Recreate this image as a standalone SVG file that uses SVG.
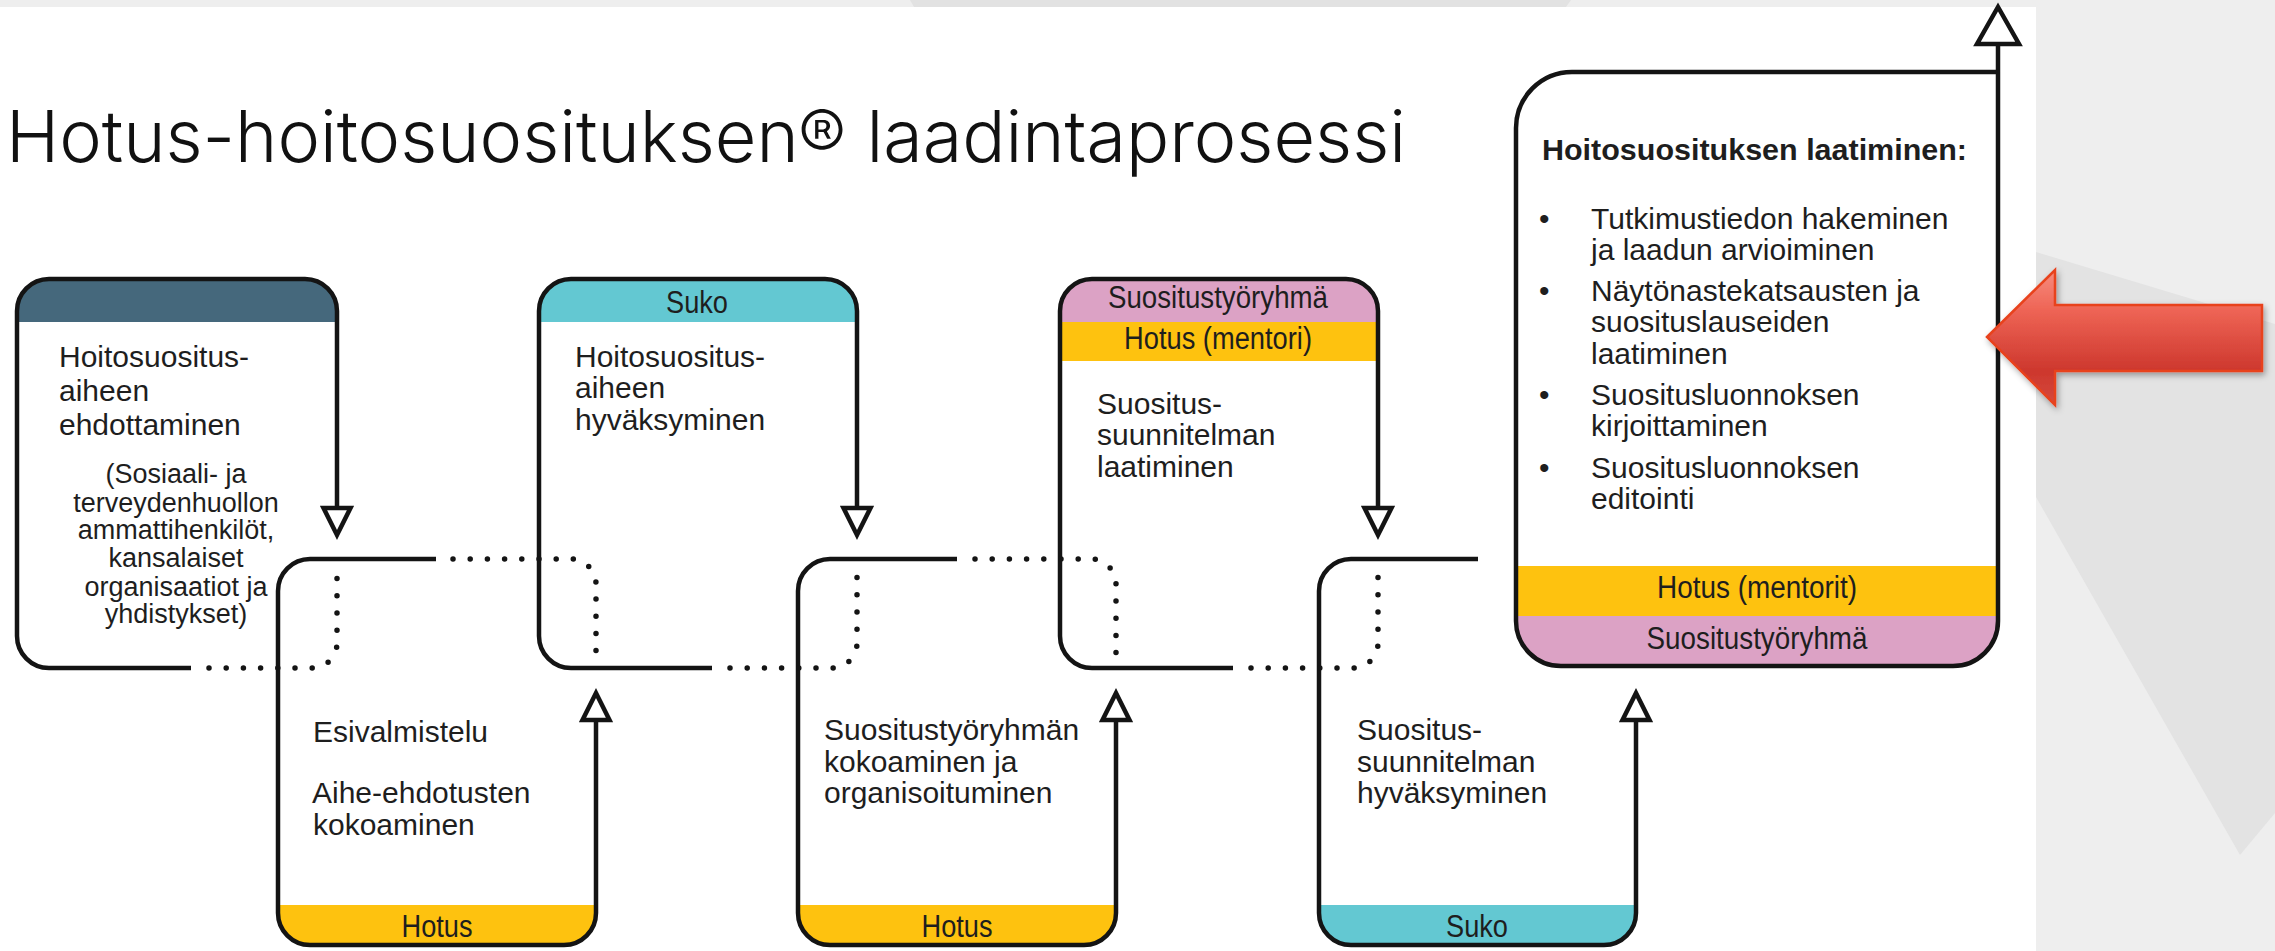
<svg xmlns="http://www.w3.org/2000/svg" width="2275" height="951" viewBox="0 0 2275 951">
  <defs>
    <style>
      .ln{fill:none;stroke:#141414;stroke-width:4.5;stroke-linejoin:round}
      .dot{fill:none;stroke:#141414;stroke-width:5.5;stroke-linecap:round;stroke-dasharray:0 17.2}
      .ah{fill:#fff;stroke:#141414;stroke-width:4.5;stroke-linejoin:miter}
      .t{font-family:"Liberation Sans",Arial,sans-serif;font-size:30px;fill:#1e1e1e}
      .s{font-size:27px;text-anchor:middle}
      .h{font-family:"Liberation Sans",Arial,sans-serif;font-size:31px;fill:#1e1e1e;text-anchor:middle}
      .b{font-weight:bold}
      .yel{fill:#fec20f}
      .cya{fill:#63c8d2}
      .pnk{fill:#dca2c5}
      .slt{fill:#45687c}
    </style>
    <linearGradient id="redg" x1="0" y1="0" x2="0" y2="1">
      <stop offset="0" stop-color="#f78c7e"/>
      <stop offset="0.3" stop-color="#ee6455"/>
      <stop offset="0.75" stop-color="#cd372d"/>
      <stop offset="1" stop-color="#d54a3e"/>
    </linearGradient>
    <filter id="shadow" x="-10%" y="-20%" width="130%" height="150%">
      <feDropShadow dx="2" dy="3" stdDeviation="3" flood-color="#000" flood-opacity="0.35"/>
    </filter>
  </defs>

  <!-- background -->
  <g id="background">
    <rect x="0" y="0" width="2275" height="951" fill="#ffffff"/>
    <rect x="0" y="0" width="2275" height="7" fill="#eeeeee"/>
    <polygon points="910,0 1571,0 1566,7 914,7" fill="#e2e2e2"/>
    <rect x="2036" y="0" width="239" height="951" fill="#eeeeee"/>
    <polygon points="2036,252 2275,324 2275,813 2240,855 2036,497" fill="#e3e3e3"/>
  </g>

  <!-- title -->
  <text id="title" x="6" y="162" font-family="Inter,'Open Sans','Noto Sans',sans-serif" font-weight="300" font-size="72" textLength="1400" lengthAdjust="spacingAndGlyphs" fill="#111">Hotus-hoitosuosituksen® laadintaprosessi</text>

  <!-- node 1 -->
  <g id="node-ehdottaminen">
    <path class="slt" d="M17 322 V311 A32 32 0 0 1 49 279 H305 A32 32 0 0 1 337 311 V322 Z"/>
    <path class="ln" d="M191 668 H49 A32 32 0 0 1 17 636 V311 A32 32 0 0 1 49 279 H305 A32 32 0 0 1 337 311"/>
    <text class="t" x="59" y="367">Hoitosuositus-</text>
    <text class="t" x="59" y="401">aiheen</text>
    <text class="t" x="59" y="435">ehdottaminen</text>
    <text class="t s" x="176" y="483">(Sosiaali- ja</text>
    <text class="t s" x="176" y="512">terveydenhuollon</text>
    <text class="t s" x="176" y="539">ammattihenkilöt,</text>
    <text class="t s" x="176" y="567">kansalaiset</text>
    <text class="t s" x="176" y="596">organisaatiot ja</text>
    <text class="t s" x="176" y="623">yhdistykset)</text>
  </g>

  <!-- node 2 -->
  <g id="node-esivalmistelu">
    <path class="yel" d="M278 905 V913 A32 32 0 0 0 310 945 H564 A32 32 0 0 0 596 913 V905 Z"/>
    <path class="ln" d="M436 559 H310 A32 32 0 0 0 278 591 V913 A32 32 0 0 0 310 945 H564 A32 32 0 0 0 596 913"/>
    <text class="t" x="313" y="742">Esivalmistelu</text>
    <text class="t" x="312" y="803">Aihe-ehdotusten</text>
    <text class="t" x="313" y="835">kokoaminen</text>
    <text class="h" x="437" y="937" textLength="71" lengthAdjust="spacingAndGlyphs">Hotus</text>
  </g>

  <!-- node 3 -->
  <g id="node-hyvaksyminen">
    <path class="cya" d="M539 322 V311 A32 32 0 0 1 571 279 H825 A32 32 0 0 1 857 311 V322 Z"/>
    <path class="ln" d="M712 668 H571 A32 32 0 0 1 539 636 V311 A32 32 0 0 1 571 279 H825 A32 32 0 0 1 857 311"/>
    <text class="h" x="697" y="313" textLength="62" lengthAdjust="spacingAndGlyphs">Suko</text>
    <text class="t" x="575" y="367">Hoitosuositus-</text>
    <text class="t" x="575" y="398">aiheen</text>
    <text class="t" x="575" y="430">hyväksyminen</text>
  </g>

  <!-- node 4 -->
  <g id="node-tyoryhma">
    <path class="yel" d="M798 905 V913 A32 32 0 0 0 830 945 H1084 A32 32 0 0 0 1116 913 V905 Z"/>
    <path class="ln" d="M957 559 H830 A32 32 0 0 0 798 591 V913 A32 32 0 0 0 830 945 H1084 A32 32 0 0 0 1116 913"/>
    <text class="t" x="824" y="740">Suositustyöryhmän</text>
    <text class="t" x="824" y="772">kokoaminen ja</text>
    <text class="t" x="824" y="803">organisoituminen</text>
    <text class="h" x="957" y="937" textLength="71" lengthAdjust="spacingAndGlyphs">Hotus</text>
  </g>

  <!-- node 5 -->
  <g id="node-suunnitelma">
    <path class="pnk" d="M1060 322 V311 A32 32 0 0 1 1092 279 H1346 A32 32 0 0 1 1378 311 V322 Z"/>
    <rect class="yel" x="1060" y="322" width="318" height="39"/>
    <path class="ln" d="M1233 668 H1092 A32 32 0 0 1 1060 636 V311 A32 32 0 0 1 1092 279 H1346 A32 32 0 0 1 1378 311"/>
    <text class="h" x="1218" y="308" textLength="220" lengthAdjust="spacingAndGlyphs">Suositustyöryhmä</text>
    <text class="h" x="1218" y="349" textLength="188" lengthAdjust="spacingAndGlyphs">Hotus (mentori)</text>
    <text class="t" x="1097" y="414">Suositus-</text>
    <text class="t" x="1097" y="445">suunnitelman</text>
    <text class="t" x="1097" y="477">laatiminen</text>
  </g>

  <!-- node 6 -->
  <g id="node-suunnitelma-hyvaksyminen">
    <path class="cya" d="M1319 905 V913 A32 32 0 0 0 1351 945 H1604 A32 32 0 0 0 1636 913 V905 Z"/>
    <path class="ln" d="M1478 559 H1351 A32 32 0 0 0 1319 591 V913 A32 32 0 0 0 1351 945 H1604 A32 32 0 0 0 1636 913"/>
    <text class="t" x="1357" y="740">Suositus-</text>
    <text class="t" x="1357" y="772">suunnitelman</text>
    <text class="t" x="1357" y="803">hyväksyminen</text>
    <text class="h" x="1477" y="937" textLength="62" lengthAdjust="spacingAndGlyphs">Suko</text>
  </g>

  <!-- node 7 -->
  <g id="node-laatiminen">
    <rect class="yel" x="1516" y="566" width="482" height="50"/>
    <path class="pnk" d="M1516 616 V621 A45 45 0 0 0 1561 666 H1953 A45 45 0 0 0 1998 621 V616 Z"/>
    <path class="ln" d="M1998 72 V621 A45 45 0 0 1 1953 666 H1561 A45 45 0 0 1 1516 621 V128 A56 56 0 0 1 1572 72 H1998"/>
    <text class="t b" x="1542" y="160" font-size="29" textLength="425" lengthAdjust="spacingAndGlyphs">Hoitosuosituksen laatiminen:</text>
    <text class="t" x="1539" y="229">•</text>
    <text class="t" x="1591" y="229">Tutkimustiedon hakeminen</text>
    <text class="t" x="1591" y="260">ja laadun arvioiminen</text>
    <text class="t" x="1539" y="301">•</text>
    <text class="t" x="1591" y="301">Näytönastekatsausten ja</text>
    <text class="t" x="1591" y="332">suosituslauseiden</text>
    <text class="t" x="1591" y="364">laatiminen</text>
    <text class="t" x="1539" y="405">•</text>
    <text class="t" x="1591" y="405">Suositusluonnoksen</text>
    <text class="t" x="1591" y="436">kirjoittaminen</text>
    <text class="t" x="1539" y="478">•</text>
    <text class="t" x="1591" y="478">Suositusluonnoksen</text>
    <text class="t" x="1591" y="509">editointi</text>
    <text class="h" x="1757" y="598" textLength="200" lengthAdjust="spacingAndGlyphs">Hotus (mentorit)</text>
    <text class="h" x="1757" y="649" textLength="221" lengthAdjust="spacingAndGlyphs">Suositustyöryhmä</text>
  </g>

  <!-- connectors -->
  <g id="connectors">
    <!-- down arrows from top boxes -->
    <path class="ln" d="M337 311 V510"/>
    <polygon class="ah" points="323.5,508 350.5,508 337,535"/>
    <path class="ln" d="M857 311 V510"/>
    <polygon class="ah" points="843.5,508 870.5,508 857,535"/>
    <path class="ln" d="M1378 311 V510"/>
    <polygon class="ah" points="1364.5,508 1391.5,508 1378,535"/>
    <!-- up arrows from bottom boxes -->
    <path class="ln" d="M596 913 V718"/>
    <polygon class="ah" points="582.5,720 609.5,720 596,693"/>
    <path class="ln" d="M1116 913 V718"/>
    <polygon class="ah" points="1102.5,720 1129.5,720 1116,693"/>
    <path class="ln" d="M1636 913 V718"/>
    <polygon class="ah" points="1622.5,720 1649.5,720 1636,693"/>
    <!-- exit arrow -->
    <path class="ln" d="M1998 72 V42"/>
    <polygon class="ah" points="1977,44 2019,44 1998,7"/>
    <!-- dotted continuations -->
    <path class="dot" d="M209 668 H312 A25 25 0 0 0 337 643 V577"/>
    <path class="dot" d="M730 668 H832 A25 25 0 0 0 857 643 V577"/>
    <path class="dot" d="M1251 668 H1353 A25 25 0 0 0 1378 643 V577"/>
    <path class="dot" d="M453 559 H571 A25 25 0 0 1 596 584 V653"/>
    <path class="dot" d="M975 559 H1091 A25 25 0 0 1 1116 584 V653"/>
  </g>

  <!-- highlight arrow -->
  <g id="highlight-arrow" filter="url(#shadow)">
    <polygon points="1987,337 2055,270 2055,305 2262,305 2262,371 2055,371 2055,405" fill="url(#redg)" stroke="#e8421c" stroke-width="2.5" stroke-linejoin="miter"/>
  </g>
</svg>
